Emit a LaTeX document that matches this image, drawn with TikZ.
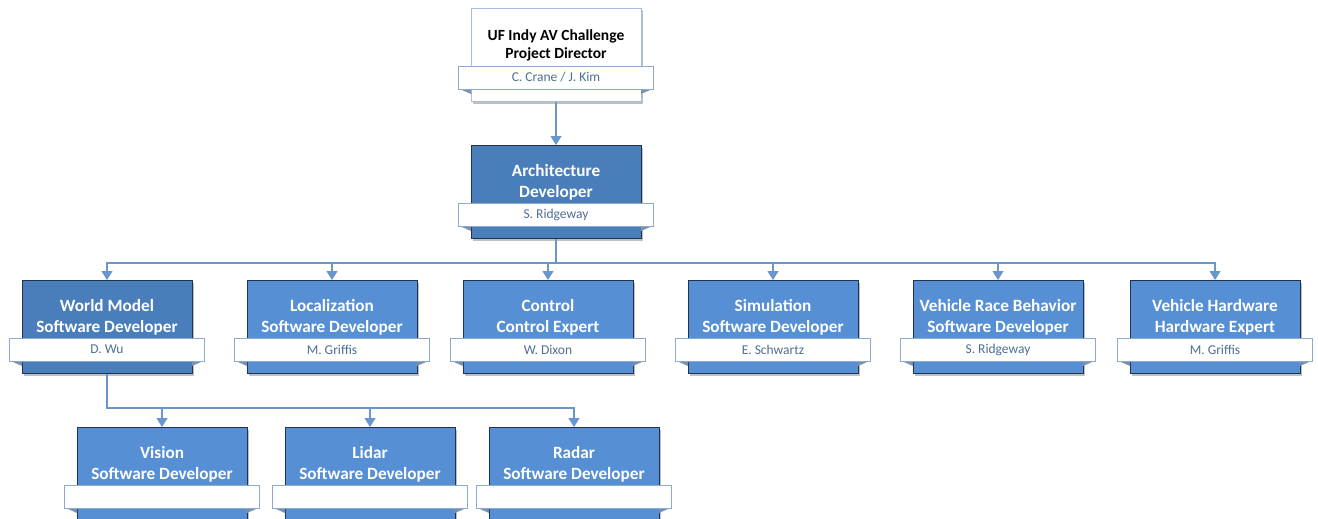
\documentclass[tikz,border=0pt]{standalone}
\usepackage{fontspec}
\setmainfont{Carlito}
\usetikzlibrary{arrows.meta,shadows}
\definecolor{darkbox}{RGB}{74,126,187}
\definecolor{medbox}{RGB}{86,143,212}
\definecolor{navy}{RGB}{32,52,82}
\definecolor{bandline}{RGB}{140,170,210}
\definecolor{bandtext}{RGB}{80,110,150}
\definecolor{topline}{RGB}{165,190,222}
\definecolor{connc}{RGB}{105,150,205}
\definecolor{foldc}{RGB}{125,145,175}
\tikzset{
  card/.style={draw=navy, line width=1pt, minimum width=170pt, minimum height=93pt,
    anchor=north, inner sep=0pt,
    drop shadow={shadow xshift=2pt,shadow yshift=-2pt,opacity=0.35,fill=black!70}},
  darkcard/.style={card, fill=darkbox},
  medcard/.style={card, fill=medbox},
  topcard/.style={card, fill=white, draw=topline},
  titlew/.style={text=white, font=\fontsize{17.2}{21}\selectfont\bfseries, align=center, inner sep=0pt},
  titlek/.style={titlew, text=black, font=\fontsize{15.5}{18}\selectfont\bfseries},
  band/.style={draw=bandline, line width=0.8pt, fill=white, minimum width=195pt,
    minimum height=23pt, inner sep=0pt, text=bandtext, font=\fontsize{13.5}{15}\selectfont},
  connline/.style={draw=connc, line width=1.2pt},
  arr/.style={connline, -{Triangle[width=11pt,length=9pt]}},
}
% name, card style, title style, cx, top, title, person
\newcommand\orgcard[7]{%
  \node[#2] (#1) at (#4,#5) {};
  \fill[foldc] ({#4-97.5},{#5+80.5}) -- ({#4-85},{#5+80.5}) -- ({#4-85},{#5+86}) -- cycle;
  \fill[foldc] ({#4+97.5},{#5+80.5}) -- ({#4+85},{#5+80.5}) -- ({#4+85},{#5+86}) -- cycle;
  \node[#3] (#1t) at (#4,{#5+37}) {#6};
  \node[band] (#1b) at (#4,{#5+69.5}) {#7};
}
\begin{document}
\begin{tikzpicture}[x=1pt,y=-1pt]
\useasboundingbox[fill=white] (0,0) rectangle (1318,519);
\orgcard{top}{topcard}{titlek}{556}{8}{UF Indy AV Challenge\\Project Director}{C. Crane / J. Kim}
\orgcard{arch}{darkcard}{titlew}{556}{145}{Architecture\\Developer}{S. Ridgeway}
\orgcard{wm}{darkcard}{titlew}{107}{280}{World Model\\Software Developer}{D. Wu}
\orgcard{loc}{medcard}{titlew}{332}{280}{Localization\\Software Developer}{M. Griffis}
\orgcard{ctl}{medcard}{titlew}{548}{280}{Control\\Control Expert}{W. Dixon}
\orgcard{sim}{medcard}{titlew}{773}{280}{Simulation\\Software Developer}{E. Schwartz}
\orgcard{vrb}{medcard}{titlew}{998}{280}{Vehicle Race Behavior\\Software Developer}{S. Ridgeway}
\orgcard{hw}{medcard}{titlew}{1215}{280}{Vehicle Hardware\\Hardware Expert}{M. Griffis}
\orgcard{vis}{medcard}{titlew}{162}{427}{Vision\\Software Developer}{}
\orgcard{lid}{medcard}{titlew}{370}{427}{Lidar\\Software Developer}{}
\orgcard{rad}{medcard}{titlew}{574}{427}{Radar\\Software Developer}{}
\draw[arr] (top.south) -- (arch.north);
\coordinate (bus1) at (556,263);
\coordinate (bus2) at (107,408);
\foreach \c in {wm,loc,ctl,sim,vrb,hw}{
  \draw[arr] (arch.south) -- (bus1) -| (\c.north);
}
\foreach \c in {vis,lid,rad}{
  \draw[arr] (wm.south) -- (bus2) -| (\c.north);
}
\end{tikzpicture}
\end{document}
